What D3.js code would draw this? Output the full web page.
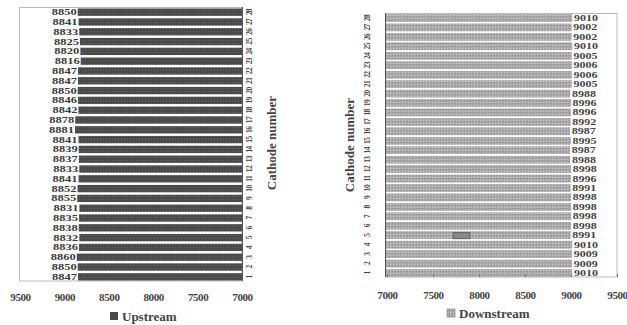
<!DOCTYPE html>
<html>
<head>
<meta charset="utf-8">
<script src="https://cdn.jsdelivr.net/npm/d3@7"></script>
<style>
  body { margin: 0; background: #fff; }
  svg text { font-family: "Liberation Serif", "DejaVu Serif", serif; font-weight: bold; }
</style>
</head>
<body>
<svg id="chart" width="627" height="325"></svg>
<script>
// cathode numbers, 1 at the bottom
const cathodes = [1, 2, 3, 4, 5, 6, 7, 8, 9, 10, 11, 12, 13, 14, 15, 16, 17, 18, 19, 20, 21, 22, 23, 24, 25, 26, 27, 28];

const upstream = [8847, 8850, 8860, 8836, 8832, 8838, 8835, 8831, 8855, 8852, 8841, 8833, 8837, 8839,
                  8841, 8881, 8878, 8842, 8846, 8850, 8847, 8847, 8816, 8820, 8825, 8833, 8841, 8850];

const downstream = [9010, 9009, 9009, 9010, 8991, 8998, 8998, 8998, 8998, 8991, 8996, 8998, 8988, 8987,
                    8995, 8987, 8992, 8996, 8996, 8988, 9005, 9006, 9006, 9005, 9010, 9002, 9002, 9010];

const upTicks = [9500, 9000, 8500, 8000, 7500, 7000];
const downTicks = [7000, 7500, 8000, 8500, 9000, 9500];

const svg = d3.select("#chart");
const defs = svg.append("defs");

// slight texture on the dark bars
const pUp = defs.append("pattern").attr("id", "pUp")
  .attr("width", 3).attr("height", 3).attr("patternUnits", "userSpaceOnUse");
pUp.append("rect").attr("width", 3).attr("height", 3).attr("fill", "#4a4a4a");
pUp.append("rect").attr("x", 1).attr("y", 1).attr("width", 1).attr("height", 1).attr("fill", "#666");

// dotted light grey for downstream
const pDown = defs.append("pattern").attr("id", "pDown")
  .attr("width", 3).attr("height", 3).attr("patternUnits", "userSpaceOnUse");
pDown.append("rect").attr("width", 3).attr("height", 3).attr("fill", "#a9a9a9");
pDown.append("rect").attr("x", 0).attr("y", 0).attr("width", 1).attr("height", 1).attr("fill", "#cfcfcf");
pDown.append("rect").attr("x", 2).attr("y", 1).attr("width", 1).attr("height", 1).attr("fill", "#8f8f8f");

const order = cathodes.slice().reverse(); // 28 at top
const fmt = d3.format("d");

// ---------- Left panel: Upstream ----------
const xL = d3.scaleLinear().domain([9500, 7000]).range([20, 242]);
const yL = d3.scaleBand().domain(order).range([8, 281]).paddingInner(0.25).paddingOuter(0.05);

const gL = svg.append("g");

gL.append("rect")
  .attr("x", 19.5).attr("y", 7.5)
  .attr("width", xL(7000) - 19.5).attr("height", 281 - 7.5)
  .attr("fill", "none").attr("stroke", "#bbb").attr("stroke-width", 1);

gL.selectAll("rect.bar")
  .data(cathodes)
  .enter()
  .append("rect")
  .attr("class", "bar")
  .attr("x", (d, i) => xL(upstream[i]))
  .attr("y", d => yL(d))
  .attr("width", (d, i) => xL(7000) - xL(upstream[i]))
  .attr("height", yL.bandwidth())
  .attr("fill", "url(#pUp)");

gL.selectAll("text.val")
  .data(cathodes)
  .enter()
  .append("text")
  .attr("class", "val")
  .attr("x", (d, i) => xL(upstream[i]) - 1)
  .attr("y", d => yL(d) + yL.bandwidth() / 2 + 3)
  .attr("text-anchor", "end")
  .attr("font-size", 9)
  .attr("textLength", 25)
  .attr("lengthAdjust", "spacingAndGlyphs")
  .attr("fill", "#3a3a3a")
  .text((d, i) => upstream[i]);

gL.append("line")
  .attr("x1", xL(7000) + 0.5).attr("x2", xL(7000) + 0.5)
  .attr("y1", 7).attr("y2", 281)
  .attr("stroke", "#555");

gL.selectAll("text.cat")
  .data(cathodes)
  .enter()
  .append("text")
  .attr("class", "cat")
  .attr("transform", d => `translate(${xL(7000) + 10},${yL(d) + yL.bandwidth() / 2}) rotate(-90)`)
  .attr("text-anchor", "middle")
  .attr("font-size", 7.5)
  .attr("letter-spacing", -0.6)
  .attr("fill", "#444")
  .text(d => d);

gL.append("g")
  .attr("transform", "translate(0,281)")
  .call(d3.axisBottom(xL).tickValues(upTicks).tickFormat(fmt).tickSize(0).tickPadding(12))
  .call(g => g.select(".domain").remove())
  .call(g => g.selectAll("text")
    .attr("font-family", "Liberation Serif").attr("font-weight", "bold")
    .attr("font-size", 11).attr("fill", "#444").attr("letter-spacing", -0.4));

gL.append("text")
  .attr("transform", "translate(276,143) rotate(-90)")
  .attr("text-anchor", "middle")
  .attr("font-size", 13)
  .attr("fill", "#444")
  .text("Cathode number");

gL.append("rect").attr("x", 110).attr("y", 312).attr("width", 8).attr("height", 8).attr("fill", "#4a4a4a");
gL.append("text").attr("x", 122).attr("y", 321).attr("font-size", 13).attr("fill", "#444").text("Upstream");

// ---------- Right panel: Downstream ----------
const xR = d3.scaleLinear().domain([7000, 9500]).range([387, 617]);
const yR = d3.scaleBand().domain(order).range([14, 277]).paddingInner(0.25).paddingOuter(0.05);

const gR = svg.append("g");

gR.append("rect")
  .attr("x", xR(7000) - 1.5).attr("y", 13.5)
  .attr("width", xR(9500) - xR(7000) + 1.5).attr("height", 277 - 13.5)
  .attr("fill", "none").attr("stroke", "#bbb").attr("stroke-width", 1);

gR.selectAll("rect.bar")
  .data(cathodes)
  .enter()
  .append("rect")
  .attr("class", "bar")
  .attr("x", xR(7000) - 1)
  .attr("y", d => yR(d))
  .attr("width", (d, i) => xR(downstream[i]) - xR(7000) + 1)
  .attr("height", yR.bandwidth())
  .attr("fill", "url(#pDown)")
  .attr("stroke", "#999").attr("stroke-width", 0.5);

gR.selectAll("text.val")
  .data(cathodes)
  .enter()
  .append("text")
  .attr("class", "val")
  .attr("x", (d, i) => xR(downstream[i]) + 2)
  .attr("y", d => yR(d) + yR.bandwidth() / 2 + 3)
  .attr("font-size", 9)
  .attr("textLength", 24)
  .attr("lengthAdjust", "spacingAndGlyphs")
  .attr("fill", "#444")
  .text((d, i) => downstream[i]);

// small outlined mark seen inside the bars near cathode 5
const markVals = [7720, 7900];
gR.append("rect")
  .attr("x", xR(markVals[0]))
  .attr("y", yR(5) + 1)
  .attr("width", xR(markVals[1]) - xR(markVals[0]))
  .attr("height", yR.bandwidth() - 1)
  .attr("fill", "#8a8a8a").attr("stroke", "#555").attr("stroke-width", 0.8);

gR.append("line")
  .attr("x1", xR(7000) - 1.5).attr("x2", xR(7000) - 1.5)
  .attr("y1", 13).attr("y2", 277)
  .attr("stroke", "#555");

gR.selectAll("text.cat")
  .data(cathodes)
  .enter()
  .append("text")
  .attr("class", "cat")
  .attr("transform", d => `translate(${xR(7000) - 17},${yR(d) + yR.bandwidth() / 2}) rotate(-90)`)
  .attr("text-anchor", "middle")
  .attr("font-size", 7.5)
  .attr("letter-spacing", -0.6)
  .attr("fill", "#444")
  .text(d => d);

gR.append("g")
  .attr("transform", "translate(0,277)")
  .call(d3.axisBottom(xR).tickValues(downTicks).tickFormat(fmt).tickSizeInner(-3).tickSizeOuter(0).tickPadding(14))
  .call(g => g.select(".domain").remove())
  .call(g => g.selectAll("line").attr("stroke", "#777"))
  .call(g => g.selectAll("text")
    .attr("font-family", "Liberation Serif").attr("font-weight", "bold")
    .attr("font-size", 11).attr("fill", "#444").attr("letter-spacing", -0.4));

gR.append("text")
  .attr("transform", "translate(354,145) rotate(-90)")
  .attr("text-anchor", "middle")
  .attr("font-size", 13)
  .attr("fill", "#444")
  .text("Cathode number");

gR.append("rect").attr("x", 447).attr("y", 309).attr("width", 8).attr("height", 8)
  .attr("fill", "url(#pDown)").attr("stroke", "#777").attr("stroke-width", 0.6);
gR.append("text").attr("x", 459).attr("y", 318).attr("font-size", 13).attr("fill", "#444").text("Downstream");
</script>
</body>
</html>
